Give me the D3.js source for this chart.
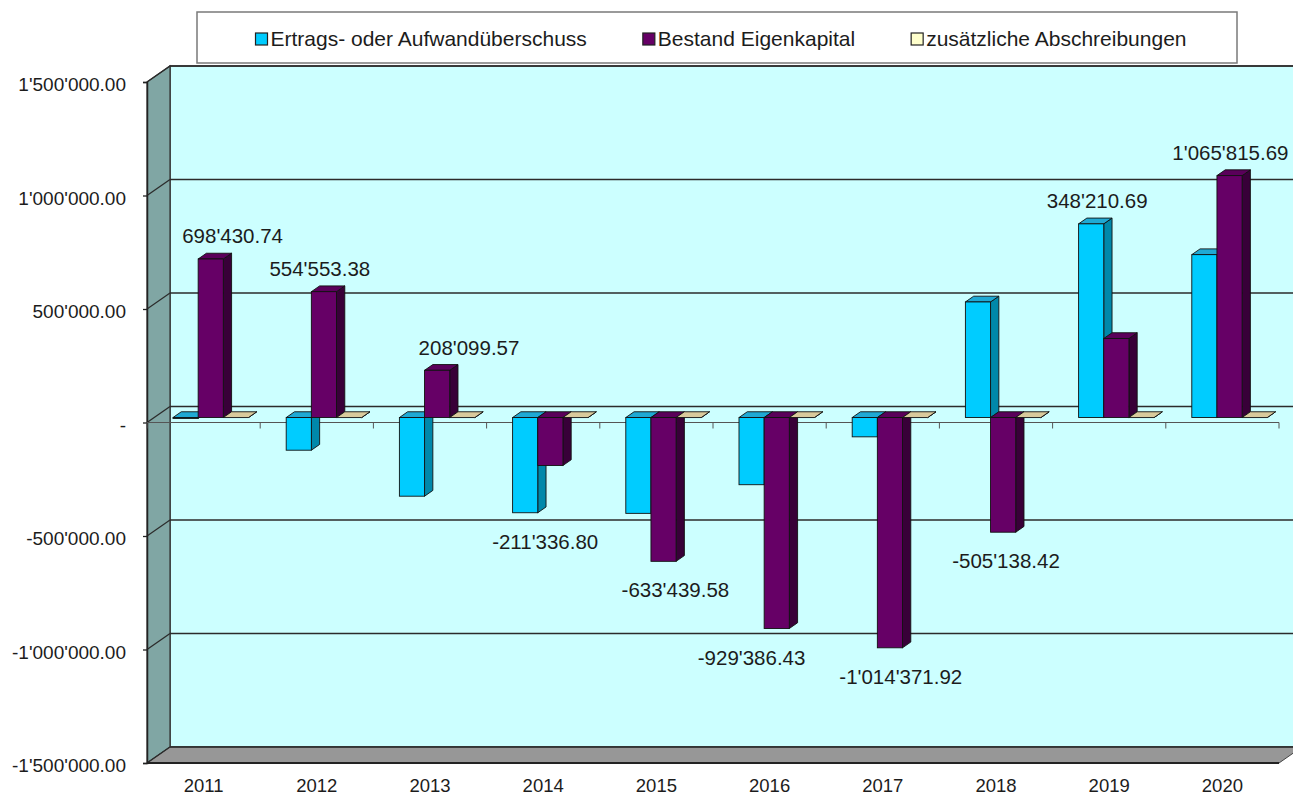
<!DOCTYPE html>
<html>
<head>
<meta charset="utf-8">
<script src="https://cdn.jsdelivr.net/npm/d3@7"></script>
<style>
  html, body { margin: 0; padding: 0; background: #ffffff; }
  svg { display: block; }
  text { font-family: "Liberation Sans", Arial, Helvetica, sans-serif; fill: #1c1c1c; }
</style>
</head>
<body>
<svg id="chart" width="1293" height="796"></svg>
<script>
// ---------------- data ----------------
const categories = ['2011','2012','2013','2014','2015','2016','2017','2018','2019','2020'];
const seriesNames = ['Ertrags- oder Aufwandüberschuss', 'Bestand Eigenkapital', 'zusätzliche Abschreibungen'];
const ertrag = [-4000, -143900, -346500, -419400, -422100, -295900, -85000, 509200, 853300, 717600];
const eigenkapital = [698430.74, 554553.38, 208099.57, -211336.80, -633439.58, -929386.43, -1014371.92, -505138.42, 348210.69, 1065815.69];
const abschreibungen = [0, 0, 0, 0, 0, 0, 0, 0, 0, 0];
const yTicks = [-1500000, -1000000, -500000, 0, 500000, 1000000, 1500000];

// ---------------- layout / style ----------------
const W = 1293, H = 796;
const plot = { x0: 147, x1: 1279, yTop: 82, yBot: 763 };
const DX = 23, DY = -16;          // depth offset of the 3D box
const F0 = 0.31, F1 = 0.67;       // bar depth range as fraction of box depth
const labelNudgeX = [29, 3, 39, 2, 19, -18, 18, 10, -12, 8];
const palette = [
  { front: '#00CCFF', top: '#1FA9D4', side: '#0088AA', legend: '#00CCFF' },
  { front: '#660066', top: '#5A005A', side: '#380038', legend: '#660066' },
  { front: '#FFFFCC', top: '#D9CA9C', side: '#A89E78', legend: '#FFFFCC' }
];

const series = [ertrag, eigenkapital, abschreibungen];
const svg = d3.select('#chart');
svg.append('rect').attr('width', W).attr('height', H).attr('fill', '#ffffff');

const x = d3.scaleBand().domain(categories).range([plot.x0, plot.x1]).paddingInner(0).paddingOuter(0);
const xs = d3.scaleBand().domain([0, 1, 2]).range([0, x.bandwidth()]).paddingInner(0).paddingOuter(0.75);
const y = d3.scaleLinear().domain([-1500000, 1500000]).range([plot.yBot, plot.yTop]);

const fmt = v => v === 0 ? '-' : d3.format(',.2f')(v).replace(/,/g, "'").replace('−', '-');

// ---------------- walls ----------------
const yMax = y(1500000), yMin = y(-1500000);
const walls = svg.append('g');
// back wall
walls.append('rect')
  .attr('x', plot.x0 + DX).attr('y', yMax + DY)
  .attr('width', plot.x1 - plot.x0).attr('height', yMin - yMax)
  .attr('fill', '#CCFFFF').attr('stroke', '#333').attr('stroke-width', 1.5);
// left wall
walls.append('polygon')
  .attr('points', [[plot.x0, yMax], [plot.x0 + DX, yMax + DY], [plot.x0 + DX, yMin + DY], [plot.x0, yMin]].join(' '))
  .attr('fill', '#80A6A4').attr('stroke', '#333').attr('stroke-width', 1.2);
// floor
walls.append('polygon')
  .attr('points', [[plot.x0, yMin], [plot.x0 + DX, yMin + DY], [plot.x1 + DX, yMin + DY], [plot.x1, yMin]].join(' '))
  .attr('fill', '#979797').attr('stroke', '#444').attr('stroke-width', 1);
walls.append('line')
  .attr('x1', plot.x0).attr('x2', plot.x1).attr('y1', yMin).attr('y2', yMin)
  .attr('stroke', '#222').attr('stroke-width', 2.2);

// gridlines (back wall + left wall diagonals)
const grid = svg.append('g');
grid.selectAll('line.gb').data(yTicks).join('line')
  .attr('x1', plot.x0 + DX).attr('x2', plot.x1 + DX)
  .attr('y1', d => y(d) + DY).attr('y2', d => y(d) + DY)
  .attr('stroke', '#2b2b2b').attr('stroke-width', 1.3);
grid.selectAll('line.gl').data(yTicks).join('line')
  .attr('x1', plot.x0).attr('x2', plot.x0 + DX)
  .attr('y1', d => y(d)).attr('y2', d => y(d) + DY)
  .attr('stroke', '#2b2b2b').attr('stroke-width', 1.3);

// y axis
const yAxis = svg.append('g').attr('transform', `translate(${plot.x0},0)`)
  .call(d3.axisLeft(y).tickValues(yTicks).tickFormat(fmt).tickSize(4).tickPadding(17));
yAxis.select('.domain').attr('stroke', '#222').attr('stroke-width', 1.5);
yAxis.selectAll('.tick line').attr('stroke', '#222').attr('stroke-width', 1.3);
yAxis.selectAll('.tick text').attr('font-size', 19).attr('dy', '0.45em')
  .attr('fill', '#1c1c1c').style('font-family', '"Liberation Sans", Arial, sans-serif');

// category axis line at zero (front plane)
const catAxis = svg.append('g');
catAxis.append('line')
  .attr('x1', plot.x0).attr('x2', plot.x1).attr('y1', y(0)).attr('y2', y(0))
  .attr('stroke', '#555').attr('stroke-width', 1);
catAxis.selectAll('line.t').data(d3.range(categories.length + 1)).join('line')
  .attr('x1', i => plot.x0 + i * x.step()).attr('x2', i => plot.x0 + i * x.step())
  .attr('y1', y(0)).attr('y2', y(0) + 6)
  .attr('stroke', '#555').attr('stroke-width', 1);

// year labels
const xAxis = svg.append('g').attr('transform', `translate(0,${plot.yBot})`)
  .call(d3.axisBottom(x).tickSize(0).tickPadding(16));
xAxis.select('.domain').remove();
xAxis.selectAll('.tick text').attr('font-size', 18.5).attr('dy', '0.71em')
  .attr('fill', '#1c1c1c').style('font-family', '"Liberation Sans", Arial, sans-serif');

// ---------------- bars ----------------
const bars = [];
categories.forEach((c, i) => {
  series.forEach((s, j) => bars.push({ cat: c, i, j, v: s[i] }));
});
const ox = F0 * DX, oy = F0 * DY, ddx = (F1 - F0) * DX, ddy = (F1 - F0) * DY;
const barG = svg.append('g').selectAll('g').data(bars).join('g');
barG.each(function (d) {
  const g = d3.select(this);
  const w = xs.bandwidth();
  const xl = x(d.cat) + xs(d.j) + ox, xr = xl + w;
  const yT = Math.min(y(d.v), y(0)) + oy, yB = Math.max(y(d.v), y(0)) + oy;
  const col = palette[d.j];
  g.append('polygon')
    .attr('points', [[xr, yT], [xr + ddx, yT + ddy], [xr + ddx, yB + ddy], [xr, yB]].join(' '))
    .attr('fill', col.side).attr('stroke', '#111').attr('stroke-width', 0.9).attr('stroke-linejoin', 'round');
  g.append('polygon')
    .attr('points', [[xl, yT], [xr, yT], [xr + ddx, yT + ddy], [xl + ddx, yT + ddy]].join(' '))
    .attr('fill', col.top).attr('stroke', '#111').attr('stroke-width', 0.9).attr('stroke-linejoin', 'round');
  g.append('rect')
    .attr('x', xl).attr('y', yT).attr('width', w).attr('height', Math.max(0, yB - yT))
    .attr('fill', col.front).attr('stroke', '#111').attr('stroke-width', 0.9);
});

// ---------------- data labels (Bestand Eigenkapital) ----------------
svg.append('g').selectAll('text').data(categories).join('text')
  .attr('x', (c, i) => x(c) + x.bandwidth() / 2 + labelNudgeX[i])
  .attr('y', (c, i) => {
    const vals = series.map(s => s[i]);
    if (eigenkapital[i] >= 0) return y(d3.max(vals)) + F1 * DY - 10;
    return y(d3.min(vals)) + F0 * DY + 36;
  })
  .attr('text-anchor', 'middle').attr('font-size', 20.5)
  .text((c, i) => fmt(eigenkapital[i]));

// ---------------- legend ----------------
const legendBox = { x: 197, y: 12, w: 1040, h: 51 };
const lg = svg.append('g');
lg.append('rect').attr('x', legendBox.x).attr('y', legendBox.y)
  .attr('width', legendBox.w).attr('height', legendBox.h)
  .attr('fill', '#fff').attr('stroke', '#7a7a7a').attr('stroke-width', 1.5);
const items = lg.selectAll('g.it').data(seriesNames).join('g');
items.append('rect').attr('x', 0).attr('y', -13).attr('width', 12).attr('height', 12)
  .attr('fill', (d, j) => palette[j].legend).attr('stroke', '#222').attr('stroke-width', 1.2);
items.append('text').attr('x', 15).attr('y', 0).attr('font-size', 21).text(d => d);
const widths = [];
items.each(function () { widths.push(this.getBBox().width); });
const gap = 56;
const total = d3.sum(widths) + gap * (widths.length - 1);
let cx = legendBox.x + (legendBox.w - total) / 2 + 4;
items.attr('transform', (d, j) => {
  const t = `translate(${cx},${legendBox.y + 34})`;
  cx += widths[j] + gap;
  return t;
});
</script>
</body>
</html>
